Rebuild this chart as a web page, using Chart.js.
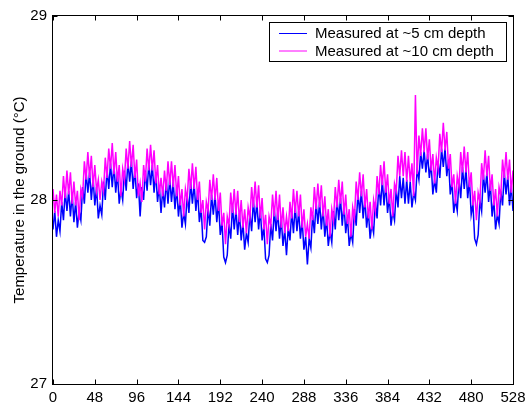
<!DOCTYPE html>
<html>
<head>
<meta charset="utf-8">
<script src="https://cdn.jsdelivr.net/npm/chart.js@4.4.1/dist/chart.umd.min.js"></script>
<style>
  html, body { margin: 0; padding: 0; background: #fff; }
  #chart { display: block; }
</style>
</head>
<body>
<canvas id="chart" width="526" height="410"></canvas>
<script>
// readings every 2 hours
const depth5cm = [
  27.84, 27.94, 27.80, 27.89, 27.83, 27.99, 27.89, 28.05, 27.94, 28.05, 27.91, 28.03,
  27.88, 27.99, 27.85, 27.94, 27.89, 28.07, 27.98, 28.15, 28.04, 28.15, 28.00, 28.12,
  27.97, 28.07, 27.90, 27.97, 27.92, 28.10, 28.00, 28.17, 28.06, 28.20, 28.07, 28.19,
  28.04, 28.15, 27.98, 28.06, 28.00, 28.16, 28.05, 28.21, 28.10, 28.21, 28.06, 28.17,
  28.01, 28.09, 27.91, 28.07, 28.00, 28.16, 28.05, 28.20, 28.08, 28.19, 28.04, 28.15,
  27.99, 28.08, 27.93, 28.06, 27.96, 28.11, 27.98, 28.12, 27.99, 28.10, 27.95, 28.07,
  27.91, 28.01, 27.85, 27.93, 27.87, 28.03, 27.93, 28.10, 27.98, 28.09, 27.94, 28.05,
  27.88, 27.96, 27.78, 27.77, 27.80, 27.96, 27.86, 28.03, 27.92, 28.03, 27.88, 27.99,
  27.81, 27.88, 27.69, 27.66, 27.70, 27.87, 27.79, 27.97, 27.84, 27.95, 27.81, 27.93,
  27.78, 27.88, 27.73, 27.82, 27.77, 27.93, 27.83, 28.00, 27.88, 27.99, 27.84, 27.95,
  27.78, 27.86, 27.68, 27.66, 27.70, 27.87, 27.78, 27.95, 27.83, 27.94, 27.79, 27.90,
  27.75, 27.84, 27.70, 27.85, 27.78, 27.94, 27.82, 27.97, 27.83, 27.94, 27.79, 27.89,
  27.73, 27.80, 27.65, 27.79, 27.74, 27.92, 27.82, 27.99, 27.87, 27.99, 27.84, 27.96,
  27.80, 27.90, 27.75, 27.83, 27.77, 27.94, 27.84, 28.01, 27.89, 28.01, 27.86, 27.98,
  27.82, 27.91, 27.75, 27.82, 27.77, 27.95, 27.86, 28.04, 27.93, 28.05, 27.90, 28.01,
  27.85, 27.94, 27.79, 27.87, 27.82, 27.99, 27.90, 28.08, 27.97, 28.11, 27.97, 28.09,
  27.93, 28.02, 27.86, 27.94, 27.89, 28.06, 27.96, 28.13, 28.01, 28.12, 27.98, 28.11,
  27.98, 28.10, 27.96, 28.04, 28.00, 28.17, 28.11, 28.26, 28.17, 28.27, 28.15, 28.25,
  28.12, 28.20, 28.03, 28.11, 28.04, 28.21, 28.12, 28.28, 28.18, 28.28, 28.13, 28.22,
  28.03, 28.10, 27.93, 28.00, 27.94, 28.11, 28.01, 28.18, 28.06, 28.17, 28.01, 28.11,
  27.92, 27.98, 27.79, 27.76, 27.81, 28.00, 27.94, 28.14, 28.04, 28.15, 27.99, 28.09,
  27.91, 28.00, 27.84, 27.92, 27.87, 28.05, 27.97, 28.15, 28.03, 28.13, 27.97, 28.08,
  27.94
];
const depth10cm = [
  28.06, 27.93, 28.03, 27.91, 28.05, 27.97, 28.13, 28.01, 28.16, 28.03, 28.15, 27.98,
  28.10, 27.97, 28.05, 27.89, 28.06, 28.02, 28.21, 28.11, 28.26, 28.12, 28.24, 28.07,
  28.19, 28.05, 28.11, 28.00, 28.10, 28.05, 28.23, 28.12, 28.28, 28.17, 28.31, 28.14,
  28.26, 28.10, 28.19, 28.02, 28.17, 28.11, 28.28, 28.17, 28.32, 28.18, 28.30, 28.12,
  28.22, 28.02, 28.09, 27.99, 28.19, 28.10, 28.28, 28.16, 28.30, 28.16, 28.27, 28.09,
  28.19, 28.03, 28.12, 28.02, 28.16, 28.05, 28.21, 28.08, 28.21, 28.07, 28.19, 28.02,
  28.13, 27.97, 28.06, 27.91, 28.06, 28.00, 28.17, 28.06, 28.20, 28.06, 28.18, 28.00,
  28.10, 27.93, 28.00, 27.84, 27.99, 27.94, 28.11, 28.00, 28.14, 28.00, 28.12, 27.94,
  28.04, 27.86, 27.93, 27.76, 27.91, 27.86, 28.04, 27.93, 28.06, 27.92, 28.05, 27.88,
  28.00, 27.85, 27.95, 27.82, 27.96, 27.90, 28.07, 27.96, 28.10, 27.96, 28.08, 27.90,
  28.01, 27.84, 27.92, 27.76, 27.91, 27.86, 28.03, 27.91, 28.05, 27.89, 28.03, 27.85,
  27.96, 27.82, 27.91, 27.83, 27.99, 27.90, 28.06, 27.93, 28.05, 27.91, 28.03, 27.85,
  27.95, 27.80, 27.87, 27.79, 27.96, 27.89, 28.07, 27.95, 28.09, 27.96, 28.08, 27.91,
  28.02, 27.86, 27.95, 27.80, 27.95, 27.89, 28.07, 27.96, 28.11, 27.98, 28.10, 27.92,
  28.03, 27.87, 27.95, 27.80, 27.96, 27.90, 28.10, 28.00, 28.15, 28.02, 28.14, 27.96,
  28.06, 27.90, 27.99, 27.84, 28.00, 27.94, 28.13, 28.03, 28.19, 28.08, 28.21, 28.04,
  28.14, 27.98, 28.06, 27.91, 28.09, 28.05, 28.24, 28.13, 28.27, 28.13, 28.26, 28.10,
  28.24, 28.10, 28.20, 28.02, 28.57, 28.14, 28.35, 28.24, 28.39, 28.26, 28.39, 28.22,
  28.33, 28.16, 28.25, 28.09, 28.23, 28.17, 28.36, 28.26, 28.42, 28.27, 28.37, 28.17,
  28.25, 28.07, 28.14, 27.98, 28.13, 28.07, 28.26, 28.15, 28.29, 28.15, 28.26, 28.07,
  28.15, 27.97, 28.05, 27.89, 28.04, 27.99, 28.20, 28.11, 28.27, 28.13, 28.24, 28.05,
  28.14, 27.97, 28.06, 27.91, 28.07, 28.02, 28.22, 28.12, 28.26, 28.11, 28.22, 28.04,
  28.16
];
const hourStep = 2;
const xTicks = [0, 48, 96, 144, 192, 240, 288, 336, 384, 432, 480, 528];
const yTicks = [27, 28, 29];
const seriesLabels = ['Measured at ~5 cm depth', 'Measured at ~10 cm depth'];
const seriesColors = ['#0000ff', '#ff00ff'];
const yTitle = 'Temperature in the ground (\u00B0C)';

Chart.defaults.font.family = "'Liberation Sans', Arial, sans-serif";
Chart.defaults.font.size = 15;
Chart.defaults.color = '#000';

const toPoints = arr => arr.map((v, i) => ({ x: i * hourStep, y: v }));

// MATLAB-like box with inward ticks and a boxed legend
const boxPlugin = {
  id: 'box',
  afterDraw(chart) {
    const { ctx, chartArea: a, scales: { x, y } } = chart;
    const L = Math.round(a.left) - 0.5, R = Math.round(a.right) + 0.5;
    const T = Math.round(a.top) - 0.5, B = Math.round(a.bottom) + 0.5;
    ctx.save();
    ctx.strokeStyle = '#000';
    ctx.lineWidth = 1;
    ctx.strokeRect(L, T, R - L, B - T);
    ctx.beginPath();
    x.ticks.forEach(t => {
      const px = Math.round(x.getPixelForValue(t.value)) + 0.5;
      ctx.moveTo(px, B); ctx.lineTo(px, B - 5);
      ctx.moveTo(px, T); ctx.lineTo(px, T + 5);
    });
    y.ticks.forEach(t => {
      const py = Math.round(y.getPixelForValue(t.value)) + 0.5;
      ctx.moveTo(L, py); ctx.lineTo(L + 5, py);
      ctx.moveTo(R, py); ctx.lineTo(R - 5, py);
    });
    ctx.stroke();

    // legend
    ctx.fillStyle = '#fff';
    ctx.fillRect(269.5, 22.5, 237, 39);
    ctx.strokeRect(269.5, 22.5, 237, 39);
    ctx.font = "15px 'Liberation Sans', Arial, sans-serif";
    ctx.textBaseline = 'middle';
    ctx.fillStyle = '#000';
    const rows = [33.5, 51];
    chart.data.datasets.forEach((ds, i) => {
      ctx.strokeStyle = ds.borderColor;
      ctx.lineWidth = 1;
      ctx.beginPath();
      ctx.moveTo(279, rows[i]); ctx.lineTo(307, rows[i]);
      ctx.stroke();
      ctx.fillText(ds.label, 315, rows[i] + 0.5);
    });
    ctx.restore();
  }
};

new Chart(document.getElementById('chart'), {
  type: 'line',
  data: {
    datasets: [
      { label: seriesLabels[0], data: toPoints(depth5cm), borderColor: seriesColors[0], order: 2 },
      { label: seriesLabels[1], data: toPoints(depth10cm), borderColor: seriesColors[1], order: 1 }
    ]
  },
  options: {
    responsive: false,
    animation: false,
    devicePixelRatio: 1,
    layout: { padding: { left: 0, right: 13, top: 16, bottom: 0 } },
    elements: {
      point: { radius: 0 },
      line: { borderWidth: 1.5, tension: 0 }
    },
    plugins: { legend: { display: false }, tooltip: { enabled: false } },
    scales: {
      x: {
        type: 'linear',
        min: 0,
        max: 528,
        afterBuildTicks: s => { s.ticks = xTicks.map(v => ({ value: v })); },
        ticks: { padding: 0, maxRotation: 0, autoSkip: false },
        grid: { display: false, drawTicks: true, tickLength: 5 },
        border: { display: false },
        afterFit: s => { s.height = 26; }
      },
      y: {
        min: 27,
        max: 29,
        afterBuildTicks: s => { s.ticks = yTicks.map(v => ({ value: v })); },
        ticks: { padding: 6 },
        grid: { display: false, drawTicks: false },
        border: { display: false },
        title: { display: true, text: yTitle, padding: { top: 11, bottom: 0 } },
        afterFit: s => { s.width = 53; }
      }
    }
  },
  plugins: [boxPlugin]
});
</script>
</body>
</html>
